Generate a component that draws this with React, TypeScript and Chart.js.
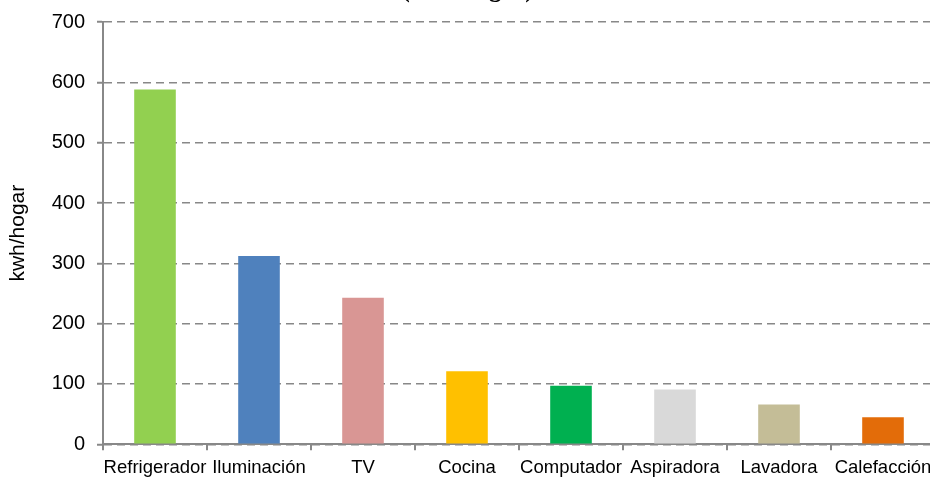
import React, { useEffect, useRef } from "react";
import { Chart, registerables } from "chart.js";

Chart.register(...registerables);

const categories = [
  "Refrigerador",
  "Iluminación",
  "TV",
  "Cocina",
  "Computador",
  "Aspiradora",
  "Lavadora",
  "Calefacción",
];
const consumo = [588, 312, 243, 121, 97, 91, 66, 45];
const barColors = [
  "#92D050",
  "#4F81BD",
  "#D99694",
  "#FFC000",
  "#00B050",
  "#D9D9D9",
  "#C4BD97",
  "#E36C09",
];
const titleText = "(kwh/hogar)";
const yAxisTitle = "kwh/hogar";
const yMin = 0;
const yMax = 700;
const yStep = 100;

const TOP_CUT = 40;
const CANVAS_W = 940;
const CANVAS_H = 477 + TOP_CUT;

export default function App() {
  const ref = useRef<HTMLCanvasElement | null>(null);

  useEffect(() => {
    if (!ref.current) return;
    const gray = "#888888";
    const chart = new Chart(ref.current, {
      type: "bar",
      data: {
        labels: categories,
        datasets: [
          {
            data: consumo,
            backgroundColor: barColors,
            borderWidth: 0,
            barPercentage: 0.4,
            categoryPercentage: 1,
          },
        ],
      },
      options: {
        animation: false,
        responsive: false,
        maintainAspectRatio: false,
        layout: { padding: { top: 0, left: 0, right: 5, bottom: 0 } },
        plugins: {
          legend: { display: false },
          tooltip: { enabled: false },
          title: {
            display: true,
            text: titleText,
            color: "#000",
            font: { family: "'Liberation Serif', 'Times New Roman', serif", size: 25, lineHeight: 1.2 },
            padding: { top: 16, bottom: 16 },
          },
        },
        scales: {
          x: {
            afterFit: (scale: any) => {
              scale.height = 32.7;
            },
            grid: {
              display: true,
              drawOnChartArea: false,
              drawTicks: true,
              tickLength: 6,
              color: gray,
              lineWidth: 2,
              offset: true,
            },
            border: { display: true, color: gray, width: 2 },
            ticks: {
              color: "#000",
              padding: 7,
              maxRotation: 0,
              autoSkip: false,
              font: { family: "'Liberation Sans', Arial, sans-serif", size: 18.5 },
            },
          },
          y: {
            min: yMin,
            max: yMax,
            afterFit: (scale: any) => {
              scale.width = 103;
            },
            ticks: {
              stepSize: yStep,
              color: "#000",
              padding: 12,
              font: { family: "'Liberation Sans', Arial, sans-serif", size: 20 },
            },
            grid: {
              color: gray,
              lineWidth: 1.5,
              tickLength: 6,
              tickColor: gray,
              tickWidth: 2,
            },
            border: { display: true, color: gray, width: 2, dash: [8, 5] },
            title: {
              display: true,
              text: yAxisTitle,
              color: "#000",
              padding: { top: 6, bottom: 0 },
              font: { family: "'Liberation Sans', Arial, sans-serif", size: 21 },
            },
          },
        },
      },
    });
    return () => chart.destroy();
  }, []);

  return (
    <div
      style={{
        position: "fixed",
        left: 0,
        top: 0,
        width: 930,
        height: 477,
        overflow: "hidden",
        background: "#fff",
      }}
    >
      <div style={{ position: "absolute", left: 0, top: -TOP_CUT, width: CANVAS_W, height: CANVAS_H }}>
        <canvas ref={ref} width={CANVAS_W} height={CANVAS_H} style={{ width: CANVAS_W, height: CANVAS_H, display: "block" }} />
      </div>
    </div>
  );
}
